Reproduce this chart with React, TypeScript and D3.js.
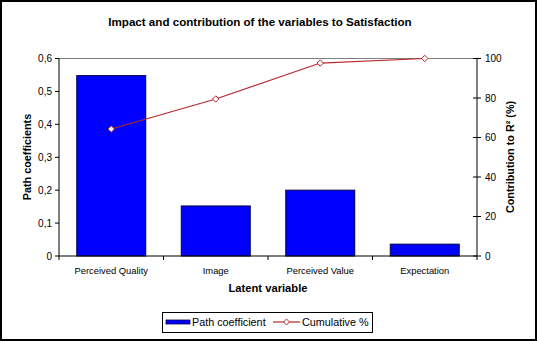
import React from "react";
import * as d3 from "d3";

const categories = ["Perceived Quality", "Image", "Perceived Value", "Expectation"];
const pathCoefficients = [0.548, 0.152, 0.2, 0.036];
const cumulativePct = [64.3, 79.5, 97.7, 100];
const leftTicks = [0, 0.1, 0.2, 0.3, 0.4, 0.5, 0.6];
const rightTicks = [0, 20, 40, 60, 80, 100];

const W = 537, H = 341;
const M = { left: 59, right: 477, top: 58.5, bottom: 256 };
const FONT = "'Liberation Sans', Arial, sans-serif";
const LINE = "#b82830";

export default function App() {
  const x = d3.scaleBand<string>().domain(categories).range([M.left, M.right]).paddingInner(0.34).paddingOuter(0.17);
  const xb = d3.scaleBand<string>().domain(categories).range([M.left, M.right]);
  const yL = d3.scaleLinear().domain([0, 0.6]).range([M.bottom, M.top]);
  const yR = d3.scaleLinear().domain([0, 100]).range([M.bottom, M.top]);
  const fmt = (v: number) => (v === 0 ? "0" : d3.format(".1f")(v).replace(".", ","));
  const line = d3.line<number>().x((_, i) => xb(categories[i])! + xb.bandwidth() / 2).y((d) => yR(d));
  const diamond = (cx: number, cy: number, r: number) => `M${cx},${cy - r}L${cx + r},${cy}L${cx},${cy + r}L${cx - r},${cy}Z`;
  const boundaries = [...categories.map((c) => xb(c)!), M.right];

  return (
    <svg width={W} height={H} style={{ position: "absolute", left: 0, top: 0, display: "block" }}>
      <rect x={0} y={0} width={W} height={H} fill="#fff" />
      <rect x={1} y={1} width={W - 2} height={H - 2} fill="none" stroke="#000" strokeWidth={2} />
      <text x={260} y={26} textAnchor="middle" fontFamily={FONT} fontWeight="bold" fontSize={11.6}>
        Impact and contribution of the variables to Satisfaction
      </text>
      {/* plot top border */}
      <line x1={M.left} x2={M.right} y1={M.top} y2={M.top} stroke="#808080" strokeWidth={1} />
      {/* bars */}
      {categories.map((c, i) => (
        <rect key={c} x={x(c)!} y={yL(pathCoefficients[i])} width={x.bandwidth()} height={M.bottom - yL(pathCoefficients[i])}
          fill="#0000ff" stroke="#000040" strokeWidth={1} />
      ))}
      {/* line */}
      <path d={line(cumulativePct)!} fill="none" stroke={LINE} strokeWidth={1.2} />
      {cumulativePct.map((v, i) => (
        <path key={i} d={diamond(xb(categories[i])! + xb.bandwidth() / 2, yR(v), 3.2)} fill="#fff" stroke={LINE} strokeWidth={1} />
      ))}
      {/* left axis */}
      <line x1={M.left} x2={M.left} y1={M.top} y2={M.bottom} stroke="#000" />
      {leftTicks.map((t) => (
        <g key={t}>
          <line x1={M.left - 4} x2={M.left} y1={yL(t)} y2={yL(t)} stroke="#000" />
          <text x={M.left - 7} y={yL(t) + 3.5} textAnchor="end" fontFamily={FONT} fontSize={10}>{fmt(t)}</text>
        </g>
      ))}
      {/* right axis */}
      <line x1={M.right} x2={M.right} y1={M.top} y2={M.bottom} stroke="#000" />
      {rightTicks.map((t) => (
        <g key={t}>
          <line x1={M.right - 4} x2={M.right + 4} y1={yR(t)} y2={yR(t)} stroke="#000" />
          <text x={M.right + 8} y={yR(t) + 3.5} textAnchor="start" fontFamily={FONT} fontSize={10}>{t}</text>
        </g>
      ))}
      {/* x axis */}
      <line x1={M.left} x2={M.right} y1={M.bottom} y2={M.bottom} stroke="#000" />
      {boundaries.map((b, i) => (
        <line key={i} x1={b} x2={b} y1={M.bottom} y2={M.bottom + 4} stroke="#000" />
      ))}
      {categories.map((c) => (
        <text key={c} x={xb(c)! + xb.bandwidth() / 2} y={274} textAnchor="middle" fontFamily={FONT} fontSize={9.4}>{c}</text>
      ))}
      <text x={268} y={292} textAnchor="middle" fontFamily={FONT} fontWeight="bold" fontSize={11.2}>Latent variable</text>
      <text transform="translate(31,157) rotate(-90)" textAnchor="middle" fontFamily={FONT} fontWeight="bold" fontSize={10.8}>Path coefficients</text>
      <text transform="translate(514,157) rotate(-90)" textAnchor="middle" fontFamily={FONT} fontWeight="bold" fontSize={10.8}>
        Contribution to R² (%)
      </text>
      {/* legend */}
      <rect x={162.5} y={312.5} width={210} height={20} fill="#fff" stroke="#000" strokeWidth={1} />
      <rect x={166} y={320} width={24} height={4} fill="#0000ff" stroke="#000040" strokeWidth={0.8} />
      <text x={192} y={326} fontFamily={FONT} fontSize={10.8}>Path coefficient</text>
      <line x1={273} x2={300} y1={322} y2={322} stroke={LINE} strokeWidth={1.2} />
      <path d={diamond(286.5, 322, 3)} fill="#fff" stroke={LINE} strokeWidth={1} />
      <text x={302} y={326} fontFamily={FONT} fontSize={10.8}>Cumulative %</text>
    </svg>
  );
}
